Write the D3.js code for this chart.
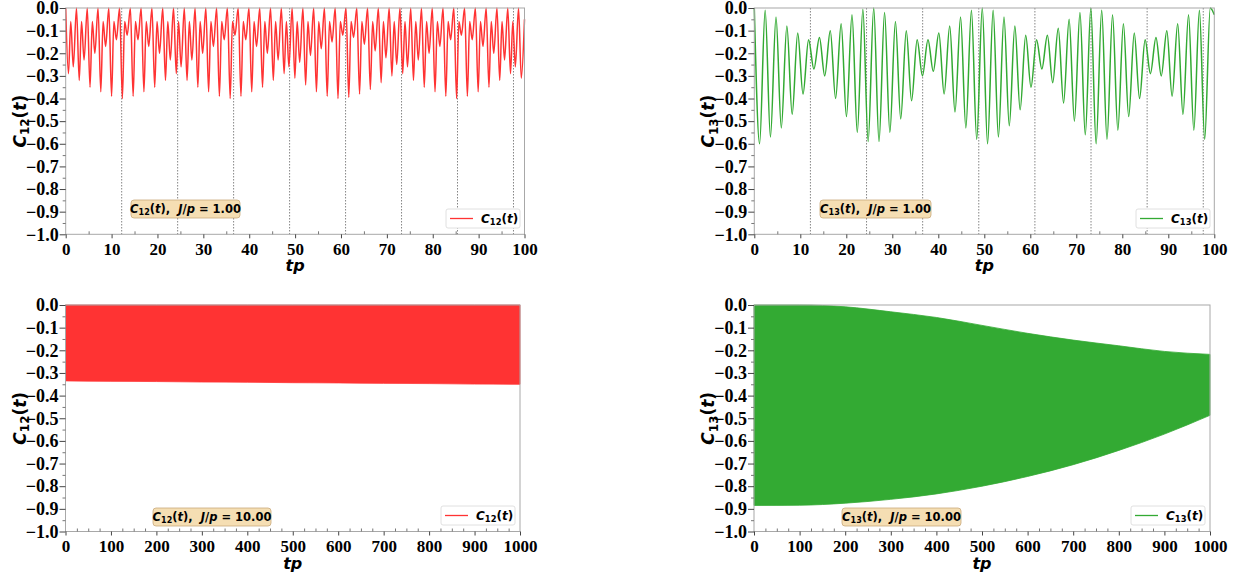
<!DOCTYPE html>
<html><head><meta charset="utf-8">
<script src="https://cdn.jsdelivr.net/npm/d3@7"></script>
<style>
body{margin:0;background:#fff;}
svg{display:block;}
.tick text{font-family:"Liberation Serif","Times New Roman",serif;font-weight:bold;font-size:18px;fill:#000;}
.xax .tick text{font-size:17px;}
.math{font-family:"DejaVu Sans",sans-serif;font-weight:bold;}
</style></head><body>
<svg id="c" width="1233" height="574"></svg>
<script>
// ---------------- data ----------------
const yTickValues = [0.0,-0.1,-0.2,-0.3,-0.4,-0.5,-0.6,-0.7,-0.8,-0.9,-1.0];
const xTicksShort = [0,10,20,30,40,50,60,70,80,90,100];
const xTicksLong = [0,100,200,300,400,500,600,700,800,900,1000];
const recurrenceTimes = [12.2,24.4,36.6,48.8,61.0,73.2,85.4,97.6];

// C12(t), J/p = 1 : extrema
const c12Time = [0,0.6,1.1,1.65,2.35,2.95,3.45,4.0,4.7,5.3,5.8,6.35,7.05,7.65,8.15,8.7,9.4,10.0,10.5,11.05,11.75,12.35,12.85,13.4,14.1,14.7,15.2,15.75,16.45,17.05,17.55,18.1,18.8,19.4,19.9,20.45,21.15,21.75,22.25,22.8,23.5,24.1,24.6,25.15,25.85,26.45,26.95,27.5,28.2,28.8,29.3,29.85,30.55,31.15,31.65,32.2,32.9,33.5,34.0,34.55,35.25,35.85,36.35,36.9,37.6,38.2,38.7,39.25,39.95,40.55,41.05,41.6,42.3,42.9,43.4,43.95,44.65,45.25,45.75,46.3,47.0,47.6,48.1,48.65,49.35,49.95,50.45,51.0,51.7,52.3,52.8,53.35,54.05,54.65,55.15,55.7,56.4,57.0,57.5,58.05,58.75,59.35,59.85,60.4,61.1,61.7,62.2,62.75,63.45,64.05,64.55,65.1,65.8,66.4,66.9,67.45,68.15,68.75,69.25,69.8,70.5,71.1,71.6,72.15,72.85,73.45,73.95,74.5,75.2,75.8,76.3,76.85,77.55,78.15,78.65,79.2,79.9,80.5,81.0,81.55,82.25,82.85,83.35,83.9,84.6,85.2,85.7,86.25,86.95,87.55,88.05,88.6,89.3,89.9,90.4,90.95,91.65,92.25,92.75,93.3,94.0,94.6,95.1,95.65,96.35,96.95,97.45,98.0,98.7,99.3,100];
const c12Value = [0,-0.29,-0.06,-0.26,0,-0.32,-0.06,-0.23,0,-0.35,-0.06,-0.20,0,-0.37,-0.06,-0.17,0,-0.39,-0.06,-0.14,0,-0.40,-0.06,-0.12,0,-0.39,-0.06,-0.14,0,-0.37,-0.06,-0.17,0,-0.35,-0.06,-0.20,0,-0.32,-0.06,-0.23,0,-0.29,-0.06,-0.26,0,-0.32,-0.06,-0.23,0,-0.35,-0.06,-0.20,0,-0.37,-0.06,-0.17,0,-0.39,-0.06,-0.14,0,-0.40,-0.06,-0.12,0,-0.39,-0.06,-0.14,0,-0.37,-0.06,-0.17,0,-0.35,-0.06,-0.20,0,-0.32,-0.06,-0.23,0,-0.29,-0.06,-0.26,0,-0.31,-0.06,-0.24,0,-0.34,-0.06,-0.21,0,-0.37,-0.06,-0.18,0,-0.39,-0.06,-0.15,0,-0.40,-0.06,-0.12,0,-0.395,-0.06,-0.13,0,-0.38,-0.06,-0.16,0,-0.36,-0.06,-0.19,0,-0.33,-0.06,-0.22,0,-0.30,-0.06,-0.25,0,-0.29,-0.06,-0.26,0,-0.32,-0.06,-0.23,0,-0.35,-0.06,-0.20,0,-0.37,-0.06,-0.17,0,-0.39,-0.06,-0.14,0,-0.40,-0.06,-0.12,0,-0.39,-0.06,-0.14,0,-0.37,-0.06,-0.17,0,-0.35,-0.06,-0.20,0,-0.32,-0.06,-0.23,0,-0.29,-0.06,-0.26,0,-0.31,-0.05];

// C13(t), J/p = 1 : extrema
const c13Time = [0,1.15,2.36,3.51,4.72,5.87,7.08,8.23,9.44,10.59,11.8,12.95,14.16,15.31,16.52,17.67,18.88,20.03,21.24,22.39,23.6,24.75,25.96,27.11,28.32,29.47,30.68,31.83,33.04,34.19,35.4,36.55,37.76,38.91,40.12,41.27,42.48,43.63,44.84,45.99,47.2,48.35,49.56,50.71,51.92,53.07,54.28,55.43,56.64,57.79,59.0,60.15,61.36,62.51,63.72,64.87,66.08,67.23,68.44,69.59,70.8,71.95,73.16,74.31,75.52,76.67,77.88,79.03,80.24,81.39,82.6,83.75,84.96,86.11,87.32,88.47,89.68,90.83,92.04,93.19,94.4,95.55,96.76,97.91,99.12,100];
const c13Value = [0,-0.60,-0.01,-0.57,-0.04,-0.53,-0.08,-0.47,-0.11,-0.38,-0.14,-0.27,-0.13,-0.30,-0.10,-0.40,-0.07,-0.48,-0.03,-0.55,-0.005,-0.59,0,-0.59,-0.02,-0.55,-0.06,-0.49,-0.10,-0.41,-0.14,-0.30,-0.14,-0.28,-0.11,-0.38,-0.08,-0.46,-0.04,-0.53,-0.01,-0.58,0,-0.60,-0.01,-0.57,-0.04,-0.52,-0.08,-0.45,-0.12,-0.35,-0.14,-0.27,-0.12,-0.33,-0.09,-0.42,-0.05,-0.50,-0.02,-0.56,0,-0.60,-0.01,-0.58,-0.03,-0.54,-0.07,-0.48,-0.11,-0.40,-0.14,-0.29,-0.13,-0.30,-0.10,-0.39,-0.07,-0.47,-0.03,-0.54,-0.01,-0.58,0,-0.03];

// J/p = 10 : envelopes of the fast oscillation
const longTime = [0,100,200,300,400,500,600,700,800,900,1000];
const c12LongUpper = [0,0,0,0,0,0,0,0,0,0,0];
const c12LongLower = [-0.335,-0.337,-0.338,-0.340,-0.341,-0.343,-0.344,-0.346,-0.347,-0.349,-0.350];
const c13LongUpper = [0,0,-0.008,-0.03,-0.055,-0.09,-0.125,-0.155,-0.18,-0.205,-0.218];
const c13LongLower = [-0.885,-0.884,-0.875,-0.858,-0.834,-0.80,-0.757,-0.705,-0.642,-0.57,-0.487];

// ---------------- drawing ----------------
const svg = d3.select('#c');
const RED = '#ff3333', GREEN = '#33aa33';

const panels = [
  {x0:65.7,x1:524.5,y0:8,y1:234.3,xmax:100,ticks:xTicksShort,minorStep:5,kind:'line',
   t:c12Time,v:c12Value,color:RED,sub:'12',jp:'1.00',ann:[131,200,109,18],leg:[446,209,74,19],vl:true},
  {x0:754.3,x1:1214.3,y0:8,y1:234.3,xmax:100,ticks:xTicksShort,minorStep:5,kind:'line',
   t:c13Time,v:c13Value,color:GREEN,sub:'13',jp:'1.00',ann:[820,200,111,18],leg:[1136,209,74,19],vl:true},
  {x0:65.5,x1:520,y0:305,y1:531.5,xmax:1000,ticks:xTicksLong,minorStep:25,kind:'band',
   t:longTime,up:c12LongUpper,lo:c12LongLower,color:RED,sub:'12',jp:'10.00',ann:[153,508,118,18],leg:[441,506,74,19],vl:false},
  {x0:754,x1:1210,y0:305,y1:531.5,xmax:1000,ticks:xTicksLong,minorStep:25,kind:'band',
   t:longTime,up:c13LongUpper,lo:c13LongLower,color:GREEN,sub:'13',jp:'10.00',ann:[842,508,119,18],leg:[1131,506,74,19],vl:false}
];

function addC(text, sub){
  text.append('tspan').attr('font-style','italic').text('C');
  text.append('tspan').attr('font-size','70%').attr('dy','0.3em').text(sub);
  text.append('tspan').attr('dy','-0.21em').text('(');
  text.append('tspan').attr('font-style','italic').text('t');
  text.append('tspan').text(')');
}

panels.forEach(p=>{
  const x = d3.scaleLinear().domain([0,p.xmax]).range([p.x0,p.x1]);
  const y = d3.scaleLinear().domain([-1,0]).range([p.y1,p.y0]);
  const g = svg.append('g');

  if(p.vl){
    g.selectAll('line.vl').data(recurrenceTimes).enter().append('line')
      .attr('x1',d=>x(d)).attr('x2',d=>x(d)).attr('y1',y(0)).attr('y2',y(-1))
      .attr('stroke','#777').attr('stroke-width',0.9).attr('stroke-dasharray','1.5,1.5');
  }

  if(p.kind==='line'){
    const pts = p.t.map((t,i)=>[t,p.v[i]]);
    g.append('path').datum(pts)
      .attr('d', d3.line().x(d=>x(d[0])).y(d=>y(d[1])).curve(d3.curveMonotoneX))
      .attr('fill','none').attr('stroke',p.color).attr('stroke-width',1.5);
  } else {
    const pts = p.t.map((t,i)=>[t,p.up[i],p.lo[i]]);
    g.append('path').datum(pts)
      .attr('d', d3.area().x(d=>x(d[0])).y0(d=>y(d[2])).y1(d=>y(d[1])).curve(d3.curveMonotoneX))
      .attr('fill',p.color).attr('stroke',p.color).attr('stroke-width',0.8);
  }

  // spines
  g.append('rect').attr('x',p.x0).attr('y',p.y0).attr('width',p.x1-p.x0).attr('height',p.y1-p.y0)
    .attr('fill','none').attr('stroke','#a8a8a8').attr('stroke-width',1);

  // y axis
  const fmt = d=> d===0 ? '0.0' : d3.format('.1f')(d);
  const ya = g.append('g').attr('transform',`translate(${p.x0},0)`)
    .call(d3.axisLeft(y).tickValues(yTickValues).tickFormat(fmt).tickSize(6).tickPadding(1));
  ya.select('.domain').remove();
  ya.selectAll('.tick line').attr('stroke','#444');
  const yMinor = d3.range(-0.95,0,0.1);
  const ym = g.append('g').attr('transform',`translate(${p.x0},0)`)
    .call(d3.axisLeft(y).tickValues(yMinor).tickFormat('').tickSize(3));
  ym.select('.domain').remove();
  ym.selectAll('.tick line').attr('stroke','#777');

  // x axis
  const xa = g.append('g').attr('class','xax').attr('transform',`translate(0,${p.y1})`)
    .call(d3.axisBottom(x).tickValues(p.ticks).tickFormat(d3.format('d')).tickSize(4).tickPadding(4.5));
  xa.select('.domain').remove();
  xa.selectAll('.tick line').attr('stroke','#444');
  const xMinor = d3.range(p.minorStep, p.xmax, p.minorStep).filter(v=>p.ticks.indexOf(v)<0);
  const xm = g.append('g').attr('transform',`translate(0,${p.y1})`)
    .call(d3.axisBottom(x).tickValues(xMinor).tickFormat('').tickSize(-3));
  xm.select('.domain').remove();
  xm.selectAll('.tick line').attr('stroke','#777');

  // axis labels
  const yl = g.append('text').attr('class','math').attr('font-size',17)
    .attr('text-anchor','middle')
    .attr('transform',`translate(${p.x0-40},${(p.y0+p.y1)/2}) rotate(-90)`);
  addC(yl,p.sub);
  g.append('text').attr('class','math').attr('font-size',16).attr('font-style','italic')
    .attr('text-anchor','middle').attr('x',(p.x0+p.x1)/2).attr('y',p.y1+37).text('tp');

  // annotation box
  const [ax,ay,aw,ah] = p.ann;
  g.append('rect').attr('x',ax).attr('y',ay).attr('width',aw).attr('height',ah).attr('rx',3)
    .attr('fill','#f5deb3').attr('stroke','#c9a97c').attr('stroke-width',0.8);
  const at = g.append('text').attr('class','math').attr('font-size',11.5)
    .attr('text-anchor','middle').attr('x',ax+aw/2).attr('y',ay+ah/2+4);
  addC(at,p.sub);
  at.append('tspan').text(',\u00a0\u00a0');
  at.append('tspan').attr('font-style','italic').text('J');
  at.append('tspan').text('/');
  at.append('tspan').attr('font-style','italic').text('p');
  at.append('tspan').text(' = '+p.jp);

  // legend
  const [lx,ly,lw,lh] = p.leg;
  g.append('rect').attr('x',lx).attr('y',ly).attr('width',lw).attr('height',lh).attr('rx',2)
    .attr('fill','#fff').attr('stroke','#d8d8d8').attr('stroke-width',0.8);
  g.append('line').attr('x1',lx+4).attr('x2',lx+27).attr('y1',ly+lh/2).attr('y2',ly+lh/2)
    .attr('stroke',p.color).attr('stroke-width',1.3);
  const lt = g.append('text').attr('class','math').attr('font-size',12)
    .attr('x',lx+35).attr('y',ly+lh/2+4);
  addC(lt,p.sub);
});
</script>
</body></html>
